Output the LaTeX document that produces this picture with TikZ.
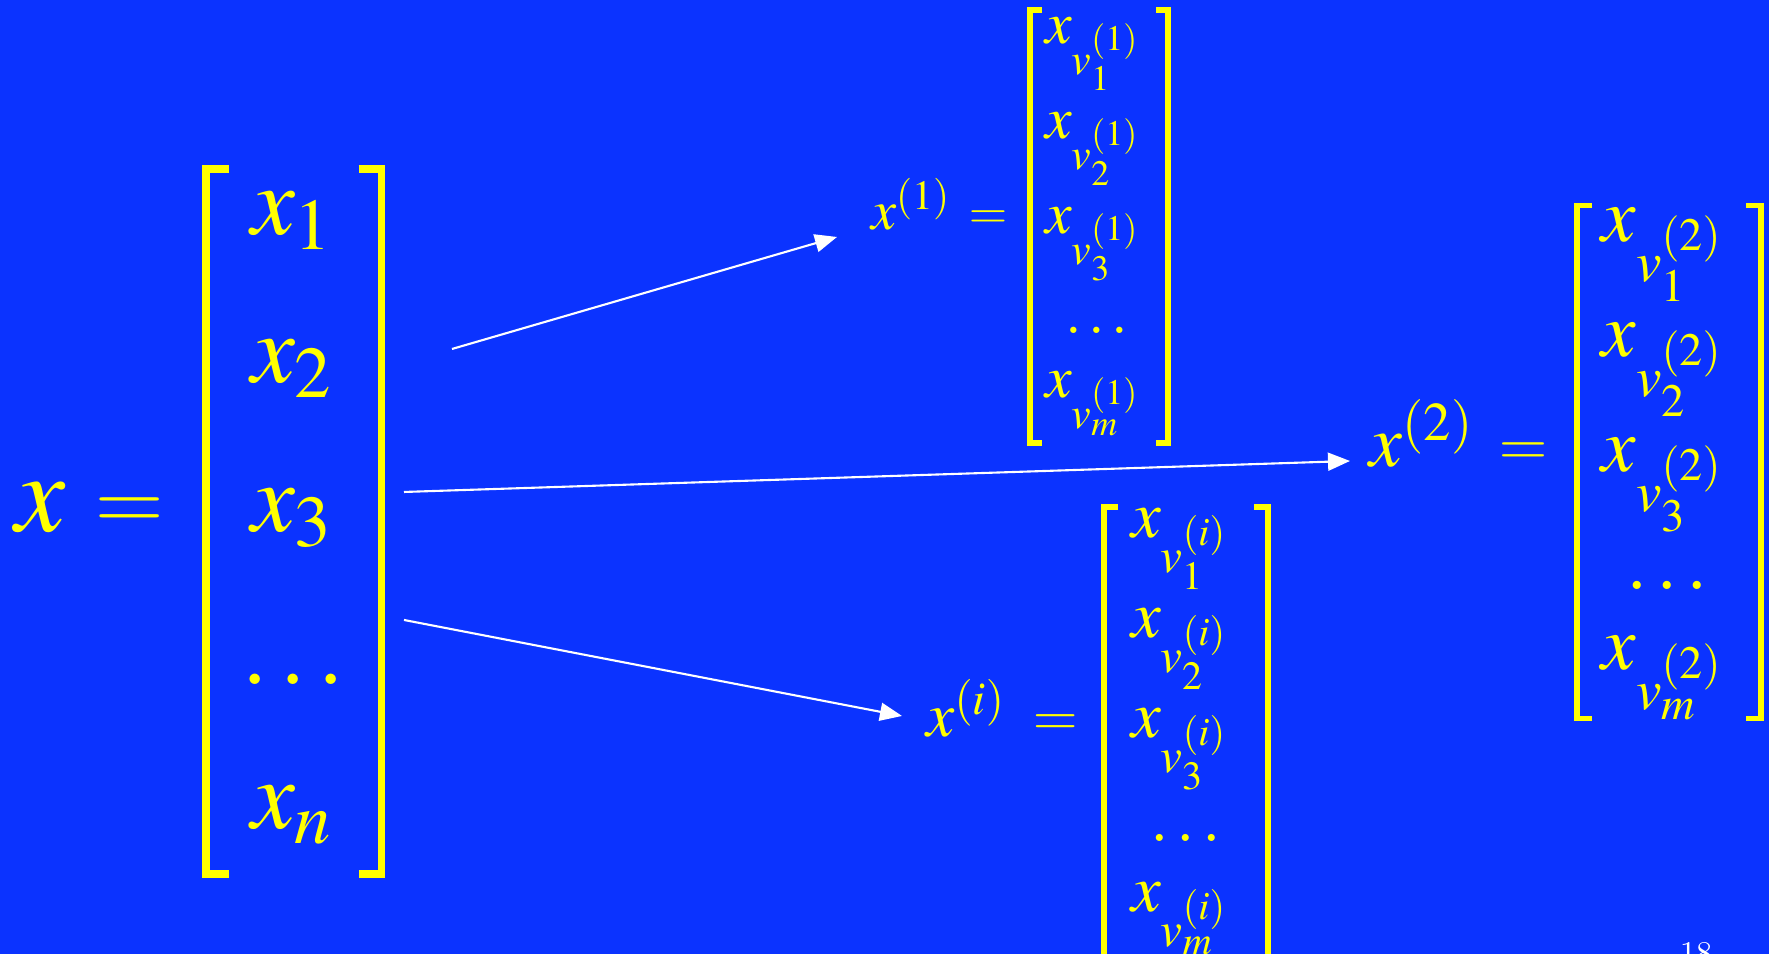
\documentclass[tikz,border=0pt]{standalone}
\usepackage{mathptmx}
\usetikzlibrary{arrows.meta, positioning}
\definecolor{cbg}{HTML}{0B33FF}
\definecolor{cyel}{HTML}{FFFF00}
\tikzset{
  entry/.style={text=cyel, anchor=base, inner sep=0pt, font=\fontsize{#1}{#1}\selectfont},
  entry/.default=17,
  eqsign/.style={text=cyel, anchor=base, inner sep=0pt, font=\fontsize{#1}{#1}\selectfont\bfseries},
  colbox/.style={inner sep=0pt, outer sep=0pt},
  brk/.style={draw=cyel, line width=#1},
  arrow/.style={-{Triangle[length=2.2mm, width=1.8mm]}, draw=white, line width=0.6pt},
}
% node, serif length, line width
\newcommand{\bracketpair}[3]{%
  \draw[brk=#3] ([xshift=#2]#1.north west) -- (#1.north west) -- (#1.south west) -- ([xshift=#2]#1.south west);
  \draw[brk=#3] ([xshift=-#2]#1.north east) -- (#1.north east) -- (#1.south east) -- ([xshift=-#2]#1.south east);
}
\begin{document}
\begin{tikzpicture}[x=1cm, y=1cm]
  \fill[cbg] (0,0) rectangle (17.69,9.54);
  \useasboundingbox (0,0) rectangle (17.69,9.54);
  % the full vector
  \node[entry=32] (xv) at (0.41,4.22) {$x$};
  \node[eqsign=27] (xeq) at (1.30,4.22) {=};
  \node[colbox, minimum width=1.755cm, minimum height=7.05cm] (b0) at (2.9375,4.325) {};
  \bracketpair{b0}{0.23cm}{2.1pt}
  \foreach \lab/\px/\y [count=\k] in {x_1/2.92/7.19, x_2/2.92/5.71, x_3/2.92/4.22, \ldots/2.93/2.69, x_n/2.92/1.25}
    \node[entry=28] (e\k) at (\px,\y) {$\lab$};
  % first part
  \node[entry=16] (p1) at (9.11,7.24) {$x^{(1)}$};
  \node[eqsign=15] (eq1) at (9.88,7.24) {=};
  \node[colbox, minimum width=1.38cm, minimum height=4.33cm] (b1) at (10.99,7.275) {};
  \bracketpair{b1}{0.12cm}{1.7pt}
  \foreach \lab/\px/\y [count=\k] in {x_{v_1^{(1)}}/10.93/9.10, x_{v_2^{(1)}}/10.93/8.15, x_{v_3^{(1)}}/10.93/7.20, \ldots/10.97/6.20, x_{v_m^{(1)}}/10.93/5.56}
    \node[entry=17] (a\k) at (\px,\y) {$\lab$};
  % second part
  \node[entry=21] (p2) at (14.22,4.87) {$x^{(2)}$};
  \node[eqsign=19] (eq2) at (15.24,4.87) {=};
  \node[colbox, minimum width=1.84cm, minimum height=5.13cm] (b2) at (16.69,4.92) {};
  \bracketpair{b2}{0.15cm}{1.6pt}
  \foreach \lab/\px/\y [count=\k] in {x_{v_1^{(2)}}/16.63/7.12, x_{v_2^{(2)}}/16.63/5.97, x_{v_3^{(2)}}/16.63/4.82, \ldots/16.67/3.64, x_{v_m^{(2)}}/16.63/2.84}
    \node[entry=22] (c\k) at (\px,\y) {$\lab$};
  % i-th part
  \node[entry=18] (pi) at (9.66,2.17) {$x^{(i)}$};
  \node[eqsign=17.5] (eqi) at (10.56,2.17) {=};
  \node[colbox, minimum width=1.64cm, minimum height=4.77cm] (bi) at (11.86,2.085) {};
  \bracketpair{bi}{0.14cm}{1.7pt}
  \foreach \lab/\px/\y [count=\k] in {x_{v_1^{(i)}}/11.80/4.16, x_{v_2^{(i)}}/11.80/3.16, x_{v_3^{(i)}}/11.80/2.16, \ldots/11.86/1.12, x_{v_m^{(i)}}/11.80/0.42}
    \node[entry=19] (d\k) at (\px,\y) {$\lab$};
  % arrows
  \coordinate (s1) at (4.52,6.05);
  \coordinate (t1) at (8.37,7.17);
  \coordinate (s2) at (4.04,4.62);
  \coordinate (t2) at (13.50,4.93);
  \coordinate (s3) at (4.04,3.34);
  \coordinate (t3) at (9.02,2.38);
  \draw[arrow] (s1) -- (t1);
  \draw[arrow] (s2) -- (t2);
  \draw[arrow] (s3) -- (t3);
  \node[text=white, anchor=base, inner sep=0pt, font=\fontsize{9}{9}\selectfont] (pg) at (16.96,-0.10) {18};
\end{tikzpicture}
\end{document}
